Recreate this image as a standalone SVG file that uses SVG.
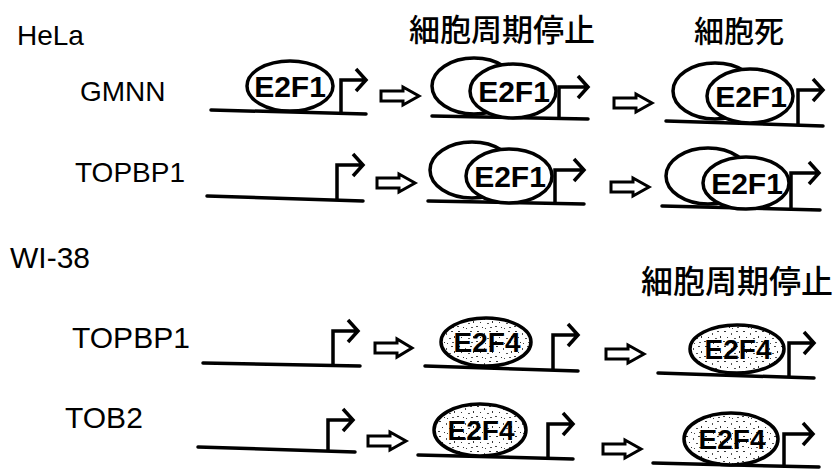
<svg xmlns="http://www.w3.org/2000/svg" width="834" height="469" viewBox="0 0 834 469">
<defs>
<pattern id="speckle" patternUnits="userSpaceOnUse" width="19" height="15">
<rect width="19" height="15" fill="#fff"/>
<rect x="2" y="1" width="2" height="1" fill="#333"/>
<rect x="9" y="3" width="1" height="2" fill="#555"/>
<rect x="14" y="1" width="2" height="1" fill="#444"/>
<rect x="5" y="7" width="1" height="1" fill="#333"/>
<rect x="12" y="8" width="2" height="1" fill="#555"/>
<rect x="17" y="6" width="1" height="2" fill="#333"/>
<rect x="1" y="11" width="2" height="1" fill="#444"/>
<rect x="7" y="12" width="1" height="1" fill="#333"/>
<rect x="15" y="12" width="2" height="1" fill="#555"/>
<rect x="10" y="13" width="1" height="1" fill="#444"/>
</pattern>
</defs>
<style>
.lbl{font-family:"Liberation Sans",Arial,sans-serif;font-size:28px;fill:#000}
.lbl2{font-family:"Liberation Sans",Arial,sans-serif;font-size:30px;fill:#000}
.jp{font-family:"Noto Sans CJK JP","Noto Sans CJK SC",sans-serif;font-size:31px;font-weight:500;fill:#000}
.tf{font-family:"Liberation Sans",Arial,sans-serif;font-size:30px;font-weight:700;fill:#000;text-anchor:middle}
.tf4{font-family:"Liberation Sans",Arial,sans-serif;font-size:28px;font-weight:700;fill:#000;text-anchor:middle}
.dna{stroke:#000;stroke-width:3.5;fill:none;stroke-linecap:round}
.prom{stroke:#000;stroke-width:3.5;fill:none;stroke-linejoin:miter}
.ov{stroke:#000;stroke-width:3.5;fill:#fff}
.sp{stroke:#000;stroke-width:3.5;fill:url(#speckle)}
.blk{stroke:#000;stroke-width:3;fill:#fff;stroke-linejoin:miter}
</style>
<rect width="834" height="469" fill="#fff"/>

<g id="titles">
<text class="lbl" x="17" y="45">HeLa</text>
<text class="jp" x="409" y="41">細胞周期停止</text>
<text class="jp" x="694" y="42" style="font-size:30px">細胞死</text>
<text class="lbl2" x="10" y="268">WI-38</text>
<text class="jp" x="641" y="293" style="font-size:32px">細胞周期停止</text>
</g>

<g id="row-gmnn">
<text class="lbl" x="80" y="101">GMNN</text>
<g id="gmnn-1">
<path class="dna" d="M211,110 L366,114"/>
<ellipse class="ov" cx="290" cy="86" rx="43" ry="25"/>
<text class="tf" x="290" y="97">E2F1</text>
<path class="prom" d="M341,113 V80 H364 M356,69 L366,80 L356,91"/>
</g>
<g id="gmnn-2">
<path class="dna" d="M432,116 L588,119"/>
<ellipse class="ov" cx="474" cy="86" rx="42" ry="28"/>
<ellipse class="ov" cx="513" cy="91" rx="43" ry="27"/>
<text class="tf" x="514" y="102">E2F1</text>
<path class="prom" d="M559,118 V87 H586 M578,76 L588,87 L578,98"/>
</g>
<g id="gmnn-3">
<path class="dna" d="M666,121 L823,126"/>
<ellipse class="ov" cx="715" cy="91" rx="42" ry="28"/>
<ellipse class="ov" cx="750" cy="96" rx="43" ry="27"/>
<text class="tf" x="751" y="107">E2F1</text>
<path class="prom" d="M798,125 V90 H821 M813,79 L823,90 L813,101"/>
</g>
</g>

<g id="row-topbp1-hela">
<text class="lbl" x="75" y="182">TOPBP1</text>
<g id="topbp1h-1">
<path class="dna" d="M207,196 L363,201"/>
<path class="prom" d="M337,200 V165 H361 M353,154 L363,165 L353,176"/>
</g>
<g id="topbp1h-2">
<path class="dna" d="M428,201 L584,204"/>
<ellipse class="ov" cx="472" cy="170" rx="42" ry="28"/>
<ellipse class="ov" cx="509" cy="176" rx="43" ry="27"/>
<text class="tf" x="510" y="187">E2F1</text>
<path class="prom" d="M555,203 V170 H582 M574,159 L584,170 L574,181"/>
</g>
<g id="topbp1h-3">
<path class="dna" d="M662,206 L820,210"/>
<ellipse class="ov" cx="708" cy="176" rx="42" ry="28"/>
<ellipse class="ov" cx="746" cy="183" rx="43" ry="26"/>
<text class="tf" x="747" y="194">E2F1</text>
<path class="prom" d="M791,209 V173 H817 M809,162 L819,173 L809,184"/>
</g>
</g>

<g id="row-topbp1-wi38">
<text class="lbl2" x="72" y="348">TOPBP1</text>
<g id="topbp1w-1">
<path class="dna" d="M203,363 L360,366"/>
<path class="prom" d="M333,365 V331 H356 M348,320 L358,331 L348,342"/>
</g>
<g id="topbp1w-2">
<path class="dna" d="M425,366 L578,371"/>
<ellipse class="sp" cx="486" cy="342" rx="45" ry="24"/>
<text class="tf4" x="487" y="352">E2F4</text>
<path class="prom" d="M553,370 V335 H576 M568,324 L578,335 L568,346"/>
</g>
<g id="topbp1w-3">
<path class="dna" d="M658,373 L814,378"/>
<ellipse class="sp" cx="737" cy="349" rx="47" ry="24"/>
<text class="tf4" x="738" y="359">E2F4</text>
<path class="prom" d="M789,377 V343 H812 M804,332 L814,343 L804,354"/>
</g>
</g>

<g id="row-tob2">
<text class="lbl2" x="65" y="428">TOB2</text>
<g id="tob2-1">
<path class="dna" d="M198,447 L355,452"/>
<path class="prom" d="M328,451 V420 H351 M343,409 L353,420 L343,431"/>
</g>
<g id="tob2-2">
<path class="dna" d="M418,455 L573,459"/>
<ellipse class="sp" cx="480" cy="430" rx="46" ry="26"/>
<text class="tf4" x="481" y="440">E2F4</text>
<path class="prom" d="M548,458 V424 H571 M563,413 L573,424 L563,435"/>
</g>
<g id="tob2-3">
<path class="dna" d="M653,463 L819,467"/>
<ellipse class="sp" cx="731" cy="439" rx="47" ry="26"/>
<text class="tf4" x="732" y="449">E2F4</text>
<path class="prom" d="M784,466 V434 H811 M803,423 L813,434 L803,445"/>
</g>
</g>

<g id="connectors">
<path class="blk" d="M381,91 H403 V87 L419,96 L403,105 V101 H381 Z"/>
<path class="blk" d="M614,98 H636 V94 L652,103 L636,112 V108 H614 Z"/>
<path class="blk" d="M377,178 H399 V174 L415,183 L399,192 V188 H377 Z"/>
<path class="blk" d="M611,182 H633 V178 L649,187 L633,196 V192 H611 Z"/>
<path class="blk" d="M375,343 H397 V339 L412,348 L397,357 V353 H375 Z"/>
<path class="blk" d="M606,349 H628 V345 L644,354 L628,363 V359 H606 Z"/>
<path class="blk" d="M368,436 H390 V432 L406,441 L390,450 V446 H368 Z"/>
<path class="blk" d="M603,444 H625 V440 L641,449 L625,458 V454 H603 Z"/>
</g>
</svg>
